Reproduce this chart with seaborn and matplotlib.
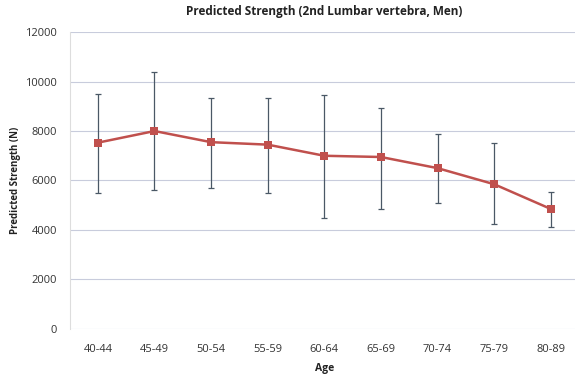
import numpy as np
import pandas as pd
import seaborn as sns
import matplotlib
matplotlib.use("Agg")
import matplotlib.pyplot as plt

# Datos
grupos_edad = ["40-44", "45-49", "50-54", "55-59", "60-64", "65-69", "70-74", "75-79", "80-89"]
fuerza_media = [7530, 8000, 7550, 7450, 7000, 6950, 6500, 5850, 4850]
limite_superior = [9500, 10400, 9350, 9350, 9450, 8950, 7900, 7500, 5550]
limite_inferior = [5500, 5600, 5700, 5500, 4500, 4850, 5100, 4250, 4100]
ticks_y = [0, 2000, 4000, 6000, 8000, 10000, 12000]

df = pd.DataFrame({"Age": grupos_edad, "Strength": fuerza_media})

sns.set_theme(style="white")
plt.rcParams["font.family"] = ["Open Sans", "DejaVu Sans"]

fig = plt.figure(figsize=(5.75, 3.78), dpi=100)
ax = fig.add_axes([0.121, 0.130, 0.886, 0.785])

# Barras de error
x = np.arange(len(grupos_edad))
yerr = [np.array(fuerza_media) - np.array(limite_inferior),
        np.array(limite_superior) - np.array(fuerza_media)]
ax.errorbar(x, fuerza_media, yerr=yerr, fmt="none", ecolor="#4a5866",
            elinewidth=0.9, capsize=2.5, capthick=0.9, zorder=2)

# Línea principal
sns.lineplot(data=df, x="Age", y="Strength", sort=False, color="#c0504d",
             linewidth=1.8, marker="s", markersize=6, markeredgewidth=0,
             ax=ax, zorder=3)

ax.set_ylim(0, 12000)
ax.set_xlim(-0.5, len(grupos_edad) - 0.5)
ax.set_yticks(ticks_y)
ax.yaxis.grid(True, color="#c8ccdc", linewidth=0.8)
ax.xaxis.grid(False)
for lado in ["top", "right", "bottom"]:
    ax.spines[lado].set_visible(False)
ax.spines["left"].set_color("#dddddd")
ax.spines["left"].set_linewidth(0.8)

ax.tick_params(axis="both", labelsize=8, colors="#333333", length=0)
ax.tick_params(axis="x", pad=11)
ax.tick_params(axis="y", pad=9)
ax.set_xlabel("Age", fontsize=7.5, fontweight="bold", color="#222222", labelpad=6)
ax.set_ylabel("Predicted Strength (N)", fontsize=7, fontweight="bold", color="#222222", labelpad=3)
ax.set_title("Predicted Strength (2nd Lumbar vertebra, Men)", fontsize=8.5,
             fontweight="bold", color="#222222", pad=12)

fig.savefig("out.png", dpi=100, facecolor="white")
